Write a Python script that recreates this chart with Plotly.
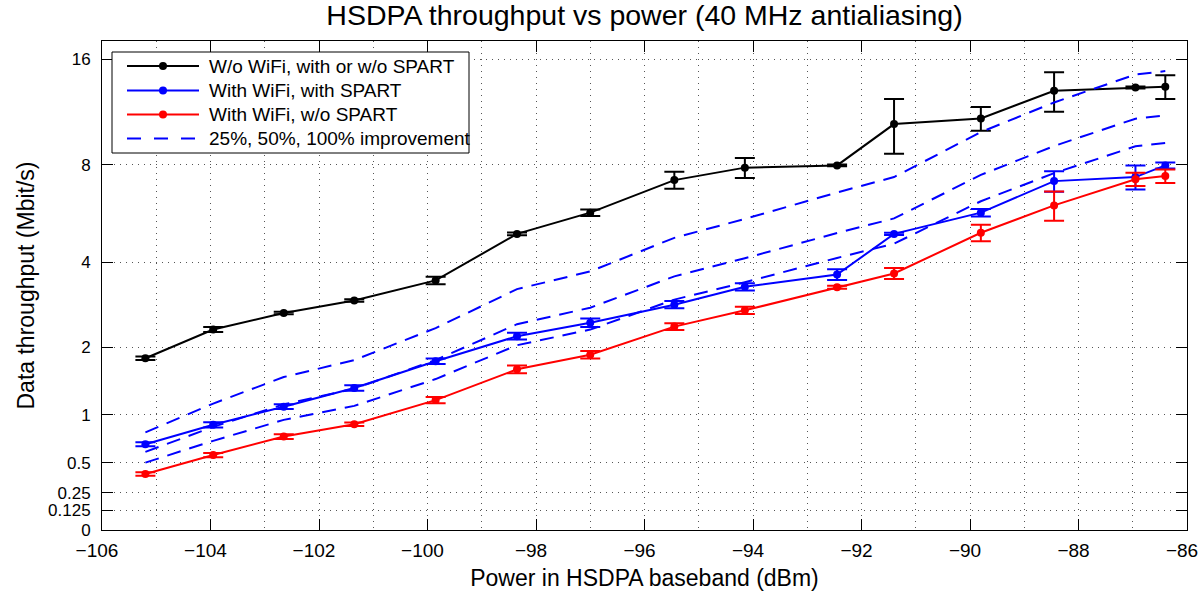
import numpy as np
import plotly.graph_objects as go

# ---------------- data ----------------
power_dbm = [-105.2, -103.95, -102.65, -101.35, -99.85, -98.35, -97.0, -95.45,
             -94.15, -92.45, -91.4, -89.8, -88.45, -86.95, -86.4]

no_wifi = [1.81, 2.34, 2.69, 2.98, 3.49, 4.94, 5.75, 7.21,
           7.85, 7.97, 10.5, 10.9, 13.05, 13.33, 13.4]
no_wifi_err = [0.03, 0.05, 0.03, 0.03, 0.10, 0.05, 0.13, 0.42,
               0.53, 0.05, 1.88, 0.85, 1.66, 0.08, 1.03]

wifi_spart = [0.676, 0.883, 1.10, 1.35, 1.76, 2.21, 2.48, 2.88,
              3.32, 3.65, 4.94, 5.75, 7.16, 7.36, 7.97]
wifi_spart_err = [0.02, 0.03, 0.03, 0.04, 0.045, 0.065, 0.09, 0.085,
                  0.095, 0.15, 0.04, 0.15, 0.5, 0.6, 0.16]

wifi_nospart = [0.40, 0.57, 0.755, 0.89, 1.185, 1.63, 1.87, 2.40,
                2.75, 3.31, 3.68, 4.98, 6.05, 7.25, 7.41]
wifi_nospart_err = [0.015, 0.02, 0.025, 0.02, 0.04, 0.06, 0.065, 0.07,
                    0.08, 0.04, 0.155, 0.30, 0.62, 0.33, 0.34]

impr_25 = [0.50, 0.71, 0.94, 1.11, 1.48, 2.04, 2.34, 3.00,
           3.44, 4.14, 4.60, 6.23, 7.56, 9.06, 9.26]
impr_50 = [0.60, 0.86, 1.13, 1.34, 1.78, 2.45, 2.81, 3.60,
           4.13, 4.97, 5.52, 7.47, 9.08, 10.88, 11.12]
impr_100 = [0.80, 1.14, 1.51, 1.78, 2.37, 3.26, 3.74, 4.80,
            5.50, 6.62, 7.36, 9.96, 12.10, 14.50, 14.82]

y_tick_values = [0, 0.125, 0.25, 0.5, 1, 2, 4, 8, 16]
y_tick_labels = ["0", "0.125", "0.25", "0.5", "1", "2", "4", "8", "16"]
y_axis_top = 17.96

legend_labels = ["W/o WiFi, with or w/o SPART", "With WiFi, with SPART",
                 "With WiFi, w/o SPART", "25%, 50%, 100% improvement"]

# ---------------- helpers ----------------
def tf(v):
    """Axis scale of the reference: log2(1 + throughput)."""
    return np.log2(1.0 + np.asarray(v, dtype=float))

def err_plus(v, e):
    v = np.asarray(v, float); e = np.asarray(e, float)
    return tf(v + e) - tf(v)

def err_minus(v, e):
    v = np.asarray(v, float); e = np.asarray(e, float)
    return tf(v) - tf(np.maximum(v - e, 0))

FONT = "Liberation Sans, Arial, Helvetica, sans-serif"
W, H = 1200, 594
L, R, T, B = 102, 1187, 41, 530

fig = go.Figure()

series = [
    (no_wifi, no_wifi_err, "black"),
    (wifi_spart, wifi_spart_err, "#0000ff"),
    (wifi_nospart, wifi_nospart_err, "#ff0000"),
]
for vals, errs, col in series:
    fig.add_trace(go.Scatter(
        x=power_dbm, y=tf(vals), mode="lines+markers",
        line=dict(color=col, width=2),
        marker=dict(color=col, size=8, line=dict(width=0)),
        error_y=dict(type="data", symmetric=False,
                     array=err_plus(vals, errs), arrayminus=err_minus(vals, errs),
                     color=col, thickness=2, width=10),
        showlegend=False, hoverinfo="skip"))

for vals in (impr_25, impr_50, impr_100):
    fig.add_trace(go.Scatter(
        x=power_dbm, y=tf(vals), mode="lines",
        line=dict(color="#0000ff", width=2, dash="14px,9px"),
        showlegend=False, hoverinfo="skip"))

grid = dict(showgrid=True, gridcolor="#555555", gridwidth=1, griddash="1px,5px")
fig.update_xaxes(
    range=[-106, -86], tick0=-106, dtick=2, ticks="inside", ticklen=11,
    tickcolor="black", showline=True, linecolor="black", linewidth=1,
    mirror="ticks", zeroline=False,
    ticklabelstandoff=3, ticklabelshift=-5, ticklabeloverflow="allow",
    minor=dict(dtick=1, tick0=-106, ticks="", **grid),
    tickfont=dict(family=FONT, size=19, color="black"),
    title=dict(text="Power in HSDPA baseband (dBm)",
               font=dict(family=FONT, size=23, color="black"), standoff=10),
    **grid)
fig.update_yaxes(
    range=[0, float(tf(y_axis_top))], tickmode="array",
    tickvals=tf(y_tick_values), ticktext=y_tick_labels,
    ticks="inside", ticklen=11, tickcolor="black", showline=True,
    linecolor="black", linewidth=1, mirror="ticks", zeroline=False,
    ticklabelstandoff=7,
    tickfont=dict(family=FONT, size=17, color="black"),
    title=dict(text="Data throughput (Mbit/s)",
               font=dict(family=FONT, size=23, color="black"), standoff=7),
    **grid)

# ---------------- legend drawn in pixel positions ----------------
def px_x(p):
    return (p - L) / (R - L)

def px_y(p):
    return (B - p) / (B - T)

shapes = [dict(type="rect", xref="paper", yref="paper",
               x0=px_x(112), x1=px_x(469), y0=px_y(153), y1=px_y(52),
               line=dict(color="black", width=1), fillcolor="white",
               layer="above")]
annotations = []
entry_y = [66, 90.5, 114.5, 138.5]
entry_style = [("black", "solid", True), ("#0000ff", "solid", True),
               ("#ff0000", "solid", True), ("#0000ff", "14px,13px", False)]
for yy, (col, dash, mk), lab in zip(entry_y, entry_style, legend_labels):
    shapes.append(dict(type="line", xref="paper", yref="paper",
                       x0=px_x(127), x1=px_x(199), y0=px_y(yy), y1=px_y(yy),
                       line=dict(color=col, width=2, dash=dash), layer="above"))
    if mk:
        shapes.append(dict(type="circle", xref="paper", yref="paper",
                           xsizemode="pixel", ysizemode="pixel",
                           xanchor=px_x(163), yanchor=px_y(yy),
                           x0=-4, x1=4, y0=-4, y1=4,
                           fillcolor=col, line=dict(width=0), layer="above"))
    annotations.append(dict(xref="paper", yref="paper", x=px_x(207), y=px_y(yy),
                            xanchor="left", yanchor="middle", showarrow=False,
                            text=lab, font=dict(family=FONT, size=19, color="black")))

fig.update_layout(
    width=W, height=H,
    margin=dict(l=L, r=W - R, t=T, b=H - B, autoexpand=False),
    paper_bgcolor="white", plot_bgcolor="white",
    title=dict(text="HSDPA throughput vs power (40 MHz antialiasing)",
               font=dict(family=FONT, size=28.5, color="black"),
               x=0.5, xref="paper", xanchor="center",
               y=1 - 15 / H, yref="container", yanchor="middle"),
    shapes=shapes, annotations=annotations, showlegend=False,
)

fig.write_html("out.html",
               config={"displayModeBar": False},
               post_script="document.body.style.margin='0px';"
                           "document.body.style.overflow='hidden';")
